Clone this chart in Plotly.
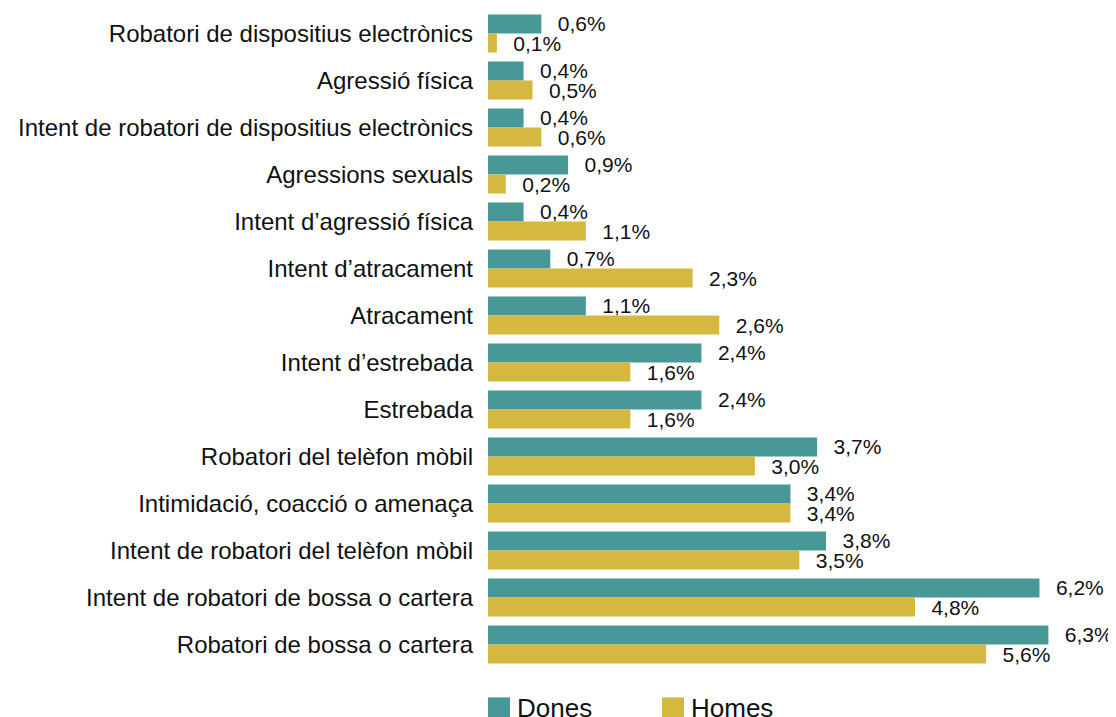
import plotly.graph_objects as go

categories = [
    "Robatori de dispositius electrònics",
    "Agressió física",
    "Intent de robatori de dispositius electrònics",
    "Agressions sexuals",
    "Intent d’agressió física",
    "Intent d’atracament",
    "Atracament",
    "Intent d’estrebada",
    "Estrebada",
    "Robatori del telèfon mòbil",
    "Intimidació, coacció o amenaça",
    "Intent de robatori del telèfon mòbil",
    "Intent de robatori de bossa o cartera",
    "Robatori de bossa o cartera",
]
dones = [0.6, 0.4, 0.4, 0.9, 0.4, 0.7, 1.1, 2.4, 2.4, 3.7, 3.4, 3.8, 6.2, 6.3]
homes = [0.1, 0.5, 0.6, 0.2, 1.1, 2.3, 2.6, 1.6, 1.6, 3.0, 3.4, 3.5, 4.8, 5.6]
series_names = ["Dones", "Homes"]

TEAL = "#479897"
GOLD = "#D4B840"
FONT = "Liberation Sans, Arial, sans-serif"

def fmt(v):
    return "\u00a0\u00a0\u200a" + f"{v:.1f}".replace(".", ",") + "%"

fig = go.Figure()
for name, vals, col in zip(series_names, [dones, homes], [TEAL, GOLD]):
    fig.add_trace(go.Bar(
        y=categories, x=vals, orientation="h", name=name,
        marker=dict(color=col, line=dict(width=0)),
        text=[fmt(v) for v in vals], textposition="outside",
        constraintext="none",
        textfont=dict(size=21, color="#111111", family=FONT),
        cliponaxis=False, showlegend=False, hoverinfo="skip",
    ))

# legend (drawn as swatches + labels below the plot)
leg_y = -0.0614
for i, (name, col) in enumerate(zip(series_names, [TEAL, GOLD])):
    x0 = 174 * i
    fig.add_shape(type="rect", xref="paper", yref="paper",
                  xsizemode="pixel", ysizemode="pixel",
                  xanchor=0, yanchor=leg_y,
                  x0=x0, x1=x0 + 22, y0=-11, y1=11,
                  fillcolor=col, line=dict(width=0))
    fig.add_annotation(x=0, y=leg_y, xref="paper", yref="paper",
                       xanchor="left", yanchor="middle", xshift=x0 + 27,
                       text=name, showarrow=False,
                       font=dict(size=26, color="#111111", family=FONT))

fig.update_layout(
    width=1108, height=709,
    margin=dict(l=480, r=0, t=1.5, b=48.5, autoexpand=False),
    barmode="group", bargap=0.19, bargroupgap=0,
    plot_bgcolor="white", paper_bgcolor="white",
    font=dict(family=FONT, size=24, color="#111111"),
    showlegend=False,
    xaxis=dict(range=[0, 7.06], visible=False, showgrid=False, zeroline=False),
    yaxis=dict(autorange="reversed", showgrid=False, zeroline=False, showline=False,
               ticks="", ticklabelstandoff=14, tickfont=dict(size=24)),
)
fig.write_html("out.html")
